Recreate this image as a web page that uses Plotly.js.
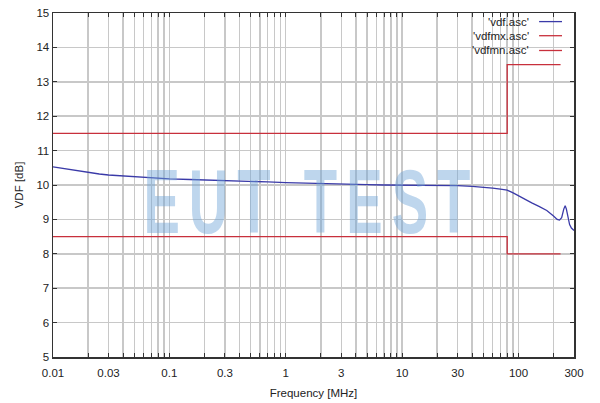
<!DOCTYPE html>
<html>
<head>
<meta charset="utf-8">
<script src="https://cdn.plot.ly/plotly-3.0.1.min.js"></script>
<style>html,body{margin:0;padding:0;background:#fff;}#chart{width:600px;height:403px;}</style>
</head>
<body>
<div id="chart"></div>
<script>
// Measured curve (vdf.asc)
const vdfFreq = [0.01, 0.013, 0.016, 0.02, 0.025, 0.03, 0.04, 0.05, 0.07, 0.1, 0.15, 0.2, 0.3, 0.5, 0.7, 1, 1.5, 2, 3, 5, 7, 10, 15, 20, 30, 40, 50, 60, 70, 80, 90, 100, 115, 130, 150, 175, 200, 215, 225, 235, 245, 252, 258, 265, 275, 285, 300];
const vdfVal  = [10.53, 10.47, 10.41, 10.36, 10.32, 10.29, 10.26, 10.24, 10.21, 10.18, 10.16, 10.15, 10.13, 10.11, 10.09, 10.07, 10.05, 10.04, 10.02, 10.01, 10.0, 10.0, 9.99, 9.98, 9.98, 9.96, 9.94, 9.91, 9.88, 9.85, 9.77, 9.68, 9.58, 9.48, 9.38, 9.26, 9.1, 9.0, 8.98, 9.05, 9.3, 9.4, 9.3, 9.1, 8.85, 8.75, 8.68];
// Limit lines (step)
const limFreq = [0.01, 80, 230];
const maxVal  = [11.5, 13.5, 13.5];
const minVal  = [8.5, 8.0, 8.0];
// Tick labels
const labeledTicks = [0.01, 0.03, 0.1, 0.3, 1, 3, 10, 30, 100, 300];
const legendNames = ["'vdf.asc'", "'vdfmx.asc'", "'vdfmn.asc'"];
const watermark = "EUT TEST";

const blue = '#3a3aa8', red = '#c8303c';

const tickvals = [], ticktext = [];
for (let d = -2; d <= 2; d++) {
  for (let m = 1; m <= 9; m++) {
    const v = +(m * Math.pow(10, d)).toPrecision(6);
    if (v > 300) continue;
    tickvals.push(v);
    ticktext.push(labeledTicks.includes(v) ? String(v) : '');
  }
}

const traces = [
  {x: vdfFreq, y: vdfVal, mode: 'lines', line: {color: blue, width: 1.3}, name: legendNames[0]},
  {x: limFreq, y: maxVal, mode: 'lines', line: {color: red, width: 1.3, shape: 'hv'}, name: legendNames[1]},
  {x: limFreq, y: minVal, mode: 'lines', line: {color: red, width: 1.3, shape: 'hv'}, name: legendNames[2]}
];

const legColors = [blue, red, red];
const legY = [0.975, 0.934, 0.891];
const annotations = [{
  text: watermark, xref: 'paper', yref: 'paper', x: 0.4866, y: 0.452,
  xanchor: 'center', yanchor: 'middle', showarrow: false,
  font: {family: 'Liberation Sans, Arial, sans-serif', size: 91, color: 'rgba(110,165,215,0.45)', weight: 'bold'}
}];
const shapes = [];
legendNames.forEach((n, i) => {
  annotations.push({text: n, xref: 'paper', yref: 'paper', x: 0.918, y: legY[i], xanchor: 'right', yanchor: 'middle', showarrow: false,
    font: {family: 'Liberation Sans, Arial, sans-serif', size: 11.5, color: '#222'}});
  shapes.push({type: 'line', xref: 'paper', yref: 'paper', x0: 0.933, x1: 0.977, y0: legY[i], y1: legY[i], line: {color: legColors[i], width: 1.3}});
});

const font = {family: 'Liberation Sans, Arial, sans-serif', size: 11.5, color: '#222'};
const layout = {
  width: 600, height: 403,
  margin: {l: 53, r: 26, t: 13, b: 46},
  paper_bgcolor: '#fff', plot_bgcolor: '#fff',
  showlegend: false,
  font: font,
  xaxis: {
    type: 'log', range: [-2, Math.log10(300)],
    tickmode: 'array', tickvals: tickvals, ticktext: ticktext,
    showgrid: true, gridcolor: '#c8c8c8', gridwidth: 1.5,
    ticks: 'inside', ticklen: 4, tickcolor: '#333',
    showline: true, linecolor: '#333', linewidth: 1.5, mirror: 'ticks',
    tickfont: font, zeroline: false, ticklabelstandoff: 5,
    title: {text: 'Frequency [MHz]', font: font, standoff: 10}
  },
  yaxis: {
    range: [5, 15], tickmode: 'linear', tick0: 5, dtick: 1,
    showgrid: true, gridcolor: '#c8c8c8', gridwidth: 1.5,
    ticks: 'inside', ticklen: 4, tickcolor: '#333',
    showline: true, linecolor: '#333', linewidth: 1.5, mirror: 'ticks',
    tickfont: font, zeroline: false,
    title: {text: 'VDF [dB]', font: font, standoff: 10}
  },
  annotations: annotations,
  shapes: shapes
};

Plotly.newPlot('chart', traces, layout, {staticPlot: true, displayModeBar: false}).then(gd => {
  const t = gd.querySelector('.annotation[data-index="0"] text');
  if (t) {
    const sx = 0.6, target = 327;
    t.setAttribute('textLength', String(target / sx));
    t.setAttribute('lengthAdjust', 'spacing');
    const bb = t.getBBox();
    const cx = bb.x + bb.width / 2;
    t.setAttribute('transform', 'translate(' + cx + ',0) scale(' + sx + ',1) translate(' + (-cx) + ',0)');
  }
});
</script>
</body>
</html>
